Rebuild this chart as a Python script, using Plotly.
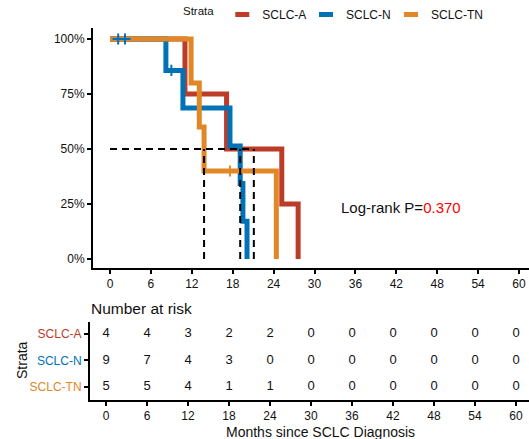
import plotly.graph_objects as go

W, H = 529, 439
FONT = "Liberation Sans, Arial, sans-serif"

groups = ["SCLC-A", "SCLC-N", "SCLC-TN"]
colors = ["#BC3C29", "#0072B5", "#E18727"]

# Kaplan-Meier step points
a_time = [0, 11.0, 17.1, 25.2, 27.6]
a_surv = [1.0, 0.75, 0.50, 0.25, 0.0]
n_time = [0, 8.2, 10.7, 17.6, 19.1, 19.5, 20.1]
n_surv = [1.0, 0.857, 0.686, 0.514, 0.343, 0.171, 0.0]
tn_time = [0, 11.9, 13.1, 13.8, 24.4]
tn_surv = [1.0, 0.80, 0.60, 0.40, 0.0]

# censoring marks
a_cens_t, a_cens_s = [], []
n_cens_t = [1.2, 2.2, 9.0]
n_cens_s = [1.0, 1.0, 0.857]
tn_cens_t = [17.6]
tn_cens_s = [0.40]

# median survival
medians = [21.1, 19.1, 13.8]

# number at risk table
risk_times = [0, 6, 12, 18, 24, 30, 36, 42, 48, 54, 60]
risk_a = [4, 4, 3, 2, 2, 0, 0, 0, 0, 0, 0]
risk_n = [9, 7, 4, 3, 0, 0, 0, 0, 0, 0, 0]
risk_tn = [5, 5, 4, 1, 1, 0, 0, 0, 0, 0, 0]

y_ticks = [0, 0.25, 0.5, 0.75, 1.0]
y_ticktext = ["0%", "25%", "50%", "75%", "100%"]
logrank_p = "0.370"

def px_x(p):
    return p / W

def px_y(p):
    return 1 - p / H

fig = go.Figure()

curves = [(a_time, a_surv), (n_time, n_surv), (tn_time, tn_surv)]
for g, c, (t, s) in zip(groups, colors, curves):
    fig.add_trace(go.Scatter(x=t, y=s, mode="lines", line=dict(color=c, width=5, shape="hv"),
                             showlegend=False, xaxis="x", yaxis="y"))

cens = [(a_cens_t, a_cens_s), (n_cens_t, n_cens_s), (tn_cens_t, tn_cens_s)]
for g, c, (t, s) in zip(groups, colors, cens):
    if t:
        fig.add_trace(go.Scatter(x=t, y=s, mode="markers",
                                 marker=dict(symbol="cross-thin", size=8, line=dict(width=2, color=c)),
                                 showlegend=False, xaxis="x", yaxis="y"))

# median lines
for m in medians:
    fig.add_trace(go.Scatter(x=[m, m], y=[0, 0.5], mode="lines",
                             line=dict(color="black", width=2, dash="7px,5px"),
                             showlegend=False, xaxis="x", yaxis="y"))
fig.add_trace(go.Scatter(x=[0, max(medians)], y=[0.5, 0.5], mode="lines",
                         line=dict(color="black", width=2, dash="7px,5px"),
                         showlegend=False, xaxis="x", yaxis="y"))

# legend entries (one legend box per group so spacing matches)
legend_ids = ["legend", "legend2", "legend3"]
for g, c, lid in zip(groups, colors, legend_ids):
    fig.add_trace(go.Scatter(x=[None], y=[None], mode="markers", name=g, legend=lid,
                             marker=dict(symbol="line-ew", size=10, line=dict(width=6, color=c)),
                             showlegend=True, xaxis="x", yaxis="y"))

# risk table
rows = [(risk_a, 3), (risk_n, 2), (risk_tn, 1)]
for vals, yv in rows:
    fig.add_trace(go.Scatter(x=risk_times, y=[yv] * len(risk_times), mode="text",
                             text=[str(v) for v in vals],
                             textfont=dict(family=FONT, size=13, color="#111"),
                             showlegend=False, xaxis="x2", yaxis="y2"))

ppm_main = 409 / 60.0
ppm_tab = 410 / 60.0

leg_common = dict(orientation="h", y=1.0, xanchor="left", yanchor="top",
                  font=dict(size=12, color="#111"), itemwidth=30, bgcolor="rgba(0,0,0,0)")

fig.update_layout(
    width=W, height=H,
    margin=dict(l=0, r=0, t=0, b=0),
    paper_bgcolor="white", plot_bgcolor="white",
    font=dict(family=FONT, size=12, color="#111"),
    xaxis=dict(domain=[px_x(93), 1], range=[(93 - 110) / ppm_main, (W - 110) / ppm_main],
               tickvals=risk_times, showline=True, linewidth=2, linecolor="black",
               ticks="outside", ticklen=4, tickwidth=1.5, tickcolor="black",
               showgrid=False, zeroline=False, tickfont=dict(size=12, color="#111"),
               anchor="y"),
    yaxis=dict(domain=[px_y(268), px_y(28)], range=[-0.041, 1.05],
               tickvals=y_ticks, ticktext=y_ticktext, showline=True, linewidth=2, linecolor="black",
               ticks="outside", ticklen=4, tickwidth=1.5, tickcolor="black",
               showgrid=False, zeroline=False, tickfont=dict(size=12, color="#111"),
               anchor="x"),
    xaxis2=dict(domain=[px_x(90), 1], range=[(90 - 106) / ppm_tab, (W - 106) / ppm_tab],
                tickvals=risk_times, showline=True, linewidth=2, linecolor="black",
                ticks="outside", ticklen=4, tickwidth=1.5, tickcolor="black",
                showgrid=False, zeroline=False, tickfont=dict(size=12, color="#111"),
                anchor="y2"),
    yaxis2=dict(domain=[px_y(400), px_y(322)], range=[0.5, 3.45],
                tickvals=[3, 2, 1],
                ticktext=[f"<span style='color:{c}'>{g}</span>" for g, c in zip(groups, colors)],
                showline=True, linewidth=2, linecolor="black",
                ticks="outside", ticklen=4, tickwidth=1.5, tickcolor="black",
                showgrid=False, zeroline=False, tickfont=dict(size=12),
                anchor="x2"),
    legend=dict(x=px_x(181), title=dict(text="Strata", font=dict(size=11.5, color="#111")),
                **leg_common),
    legend2=dict(x=px_x(306), **leg_common),
    legend3=dict(x=px_x(391), **leg_common),
    annotations=[
        dict(text="Log-rank P=<span style='color:red'>" + logrank_p + "</span>",
             x=px_x(339), y=px_y(207), xref="paper", yref="paper", xanchor="left", yanchor="middle",
             showarrow=False, font=dict(size=15, color="#111")),
        dict(text="Number at risk", x=px_x(89), y=px_y(308), xref="paper", yref="paper",
             xanchor="left", yanchor="middle", showarrow=False, font=dict(size=15.5, color="#111")),
        dict(text="Strata", x=px_x(22), y=px_y(360), xref="paper", yref="paper",
             xanchor="center", yanchor="middle", textangle=-90, showarrow=False,
             font=dict(size=14, color="#111")),
        dict(text="Months since SCLC Diagnosis", x=px_x(320), y=px_y(432), xref="paper", yref="paper",
             xanchor="center", yanchor="middle", showarrow=False, font=dict(size=14, color="#111")),
    ],
)

fig.write_html("out.html", config={"displayModeBar": False},
               post_script="document.body.style.margin='0px';document.body.style.overflow='hidden';")
